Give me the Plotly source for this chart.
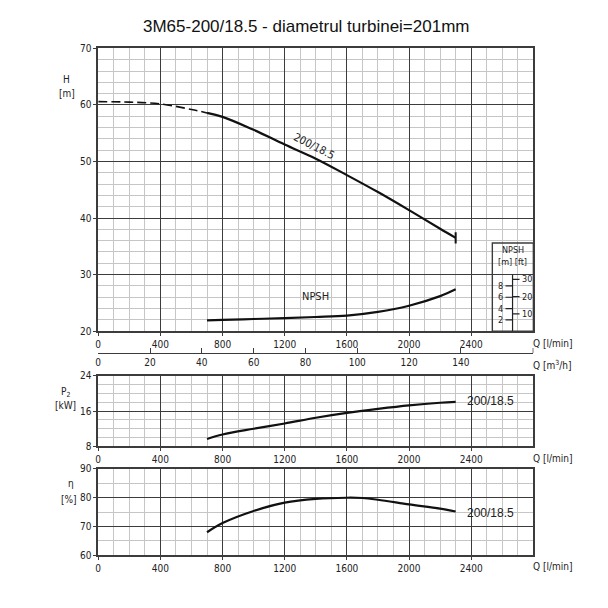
import plotly.graph_objects as go

TITLE = "3M65-200/18.5 - diametrul turbinei=201mm"
CURVE = "200/18.5"

Q_MAX = 2800
q_ticks = [0, 400, 800, 1200, 1600, 2000, 2400]
m3h_ticks = [0, 20, 40, 60, 80, 100, 120, 140]

# head, dashed part below the minimum flow
q_h_dash = [0, 200, 400, 600, 700]
h_dash = [60.6, 60.5, 60.2, 59.2, 58.6]
q_h = [700, 800, 1000, 1200, 1400, 1600, 1800, 2000, 2200, 2300]
h = [58.6, 57.9, 55.6, 53.0, 50.5, 47.6, 44.6, 41.4, 38.1, 36.5]

# NPSH in metres, drawn from the bottom of the H axis
H_MIN = 20
q_npsh = [700, 800, 1000, 1200, 1400, 1600, 1800, 2000, 2200, 2300]
npsh = [1.9, 2.0, 2.15, 2.3, 2.5, 2.75, 3.4, 4.5, 6.2, 7.4]
npsh_m_ticks = [2, 4, 6, 8]
npsh_ft_ticks = [10, 20, 30]

q_p = [700, 800, 1000, 1200, 1400, 1600, 1800, 2000, 2200, 2300]
p2 = [9.7, 10.7, 12.0, 13.2, 14.5, 15.6, 16.5, 17.3, 17.9, 18.1]

q_eta = [700, 800, 1000, 1200, 1400, 1600, 1700, 1800, 2000, 2200, 2300]
eta = [68.0, 71.2, 75.4, 78.3, 79.6, 80.0, 79.9, 79.3, 77.7, 76.2, 75.2]

W = H_PX = 608
TICKFONT = dict(family="Liberation Sans Narrow, DejaVu Sans Condensed, sans-serif",
                size=10, color="#222")
LABELFONT = dict(family="Liberation Sans, Arial, sans-serif", size=12, color="#222")
MAJOR = "#3c3c3c"
MINOR = "#c6c6c6"


def px_x(x):
    return x / W


def px_y(y):
    return 1 - y / H_PX


x_dom = [px_x(95.7), px_x(533)]


def q_axis(anchor):
    return dict(domain=x_dom, range=[0, Q_MAX], anchor=anchor,
                tickvals=q_ticks, tickfont=TICKFONT,
                ticks="outside", ticklen=3, tickcolor=MAJOR,
                showgrid=True, gridcolor=MAJOR, gridwidth=1.2,
                minor=dict(dtick=100, tick0=0, showgrid=True,
                           gridcolor=MINOR, gridwidth=1),
                showline=True, linecolor=MAJOR, linewidth=1.6, mirror=True,
                zeroline=False)


def val_axis(anchor, top, bottom, rng, dtick, minor):
    return dict(domain=[px_y(bottom), px_y(top)], range=rng, anchor=anchor,
                dtick=dtick, tick0=rng[0], tickfont=TICKFONT,
                ticks="outside", ticklen=3, tickcolor=MAJOR,
                showgrid=True, gridcolor=MAJOR, gridwidth=1.2,
                minor=dict(dtick=minor, tick0=rng[0], showgrid=True,
                           gridcolor=MINOR, gridwidth=1),
                showline=True, linecolor=MAJOR, linewidth=1.6, mirror=True,
                zeroline=False)


def note(text, x, y, xref="paper", yref="paper", font=TICKFONT, **kw):
    d = dict(x=x, y=y, xref=xref, yref=yref, text=text, showarrow=False,
             font=font, xanchor="center", yanchor="middle")
    d.update(kw)
    return d


fig = go.Figure()

line = dict(color="#111", width=2.2)

fig.add_trace(go.Scatter(x=q_h_dash, y=h_dash, mode="lines", line_shape="spline",
                         line=dict(color="#111", width=1.6, dash="9px,4px")))
fig.add_trace(go.Scatter(x=q_h, y=h, mode="lines", line_shape="spline", line=line))
fig.add_trace(go.Scatter(x=q_h[-1:], y=h[-1:], mode="markers",
                         marker=dict(symbol="line-ns", size=8,
                                     line=dict(color="#111", width=2))))
fig.add_trace(go.Scatter(x=q_npsh, y=[v + H_MIN for v in npsh], mode="lines",
                         line_shape="spline", line=line))
# empty trace so the m3/h axis is drawn
fig.add_trace(go.Scatter(x=[0, Q_MAX * 60 / 1000], y=[None, None], xaxis="x4",
                         yaxis="y", mode="lines"))
fig.add_trace(go.Scatter(x=q_p, y=p2, xaxis="x2", yaxis="y2", mode="lines",
                         line_shape="spline", line=line))
fig.add_trace(go.Scatter(x=q_eta, y=eta, xaxis="x3", yaxis="y3", mode="lines",
                         line_shape="spline", line=line))

# NPSH scale box
box_x0, box_x1, box_top = 2536, Q_MAX, 35.6
scale_x = 2666
small = dict(TICKFONT, size=9)
shapes = [
    dict(type="rect", xref="x", yref="y", x0=box_x0, x1=box_x1, y0=H_MIN, y1=box_top,
         line=dict(color=MAJOR, width=1.4)),
    dict(type="line", xref="x", yref="y", x0=scale_x, x1=scale_x,
         y0=H_MIN, y1=H_MIN + 10, line=dict(color="#222", width=1.2)),
    # closing tick at the end of the m3/h scale
    dict(type="line", xref="x", yref="paper", x0=Q_MAX, x1=Q_MAX,
         y0=px_y(354), y1=px_y(349), line=dict(color=MAJOR, width=1.4)),
]
annotations = []
for m in npsh_m_ticks:
    shapes.append(dict(type="line", xref="x", yref="y", x0=scale_x - 45, x1=scale_x,
                       y0=H_MIN + m, y1=H_MIN + m, line=dict(color="#222", width=1.2)))
    annotations.append(note(str(m), scale_x - 50, H_MIN + m, "x", "y", small,
                            xanchor="right"))
for ft in npsh_ft_ticks:
    yv = H_MIN + ft * 0.3048
    shapes.append(dict(type="line", xref="x", yref="y", x0=scale_x, x1=scale_x + 45,
                       y0=yv, y1=yv, line=dict(color="#222", width=1.2)))
    annotations.append(note(str(ft), scale_x + 50, yv, "x", "y", small,
                            xanchor="left"))
annotations += [
    note("NPSH", scale_x, px_y(249), "x", "paper", small),
    note("[m] [ft]", scale_x, px_y(261), "x", "paper", small),
]

# curve labels
annotations += [
    note(CURVE, 1391, 52.7, "x", "y", dict(TICKFONT, size=11), textangle=27),
    note("NPSH", 1400, 26.1, "x", "y", dict(TICKFONT, size=11)),
    note(CURVE, 2357, 18.3, "x2", "y2", LABELFONT, xanchor="left"),
    note(CURVE, 2357, 74.6, "x3", "y3", LABELFONT, xanchor="left"),
]

# axis titles
for text, xp, yp in [
    ("Q [l/min]", 552, 344), ("Q [m<sup>3</sup>/h]", 552, 366),
    ("Q [l/min]", 552, 462), ("Q [l/min]", 552, 572),
    ("H", 64, 75), ("[m]", 64, 89),
    ("P<sub>2</sub>", 63, 394), ("[kW]", 63, 408),
    ("η", 68, 487), ("[%]", 66, 503),
]:
    annotations.append(note(text, px_x(xp), px_y(yp)))

annotations.append(note(TITLE, px_x(304), px_y(21),
                        font=dict(family="Liberation Sans, Arial, sans-serif",
                                  size=17, color="#111")))

fig.update_layout(
    width=W, height=H_PX, margin=dict(l=0, r=0, t=0, b=0),
    paper_bgcolor="white", plot_bgcolor="white", showlegend=False,
    xaxis=q_axis("y"),
    yaxis=val_axis("x", 43.3, 331.7, [20, 70], 10, 2),
    xaxis2=q_axis("y2"),
    yaxis2=val_axis("x2", 377.3, 449.3, [8, 24], 8, 2),
    xaxis3=q_axis("y3"),
    yaxis3=val_axis("x3", 472.3, 560.3, [60, 90], 10, 5),
    xaxis4=dict(domain=x_dom, range=[0, Q_MAX * 60 / 1000], overlaying="x",
                anchor="free", position=px_y(354), side="bottom",
                tickvals=m3h_ticks, tickfont=TICKFONT,
                ticks="inside", ticklen=5, tickcolor=MAJOR,
                showgrid=False, showline=True, linecolor=MAJOR, linewidth=1.4,
                zeroline=False),
    shapes=shapes,
    annotations=annotations,
)

fig.write_html("out.html", config={"displayModeBar": False},
               post_script="document.body.style.margin = '0';")
